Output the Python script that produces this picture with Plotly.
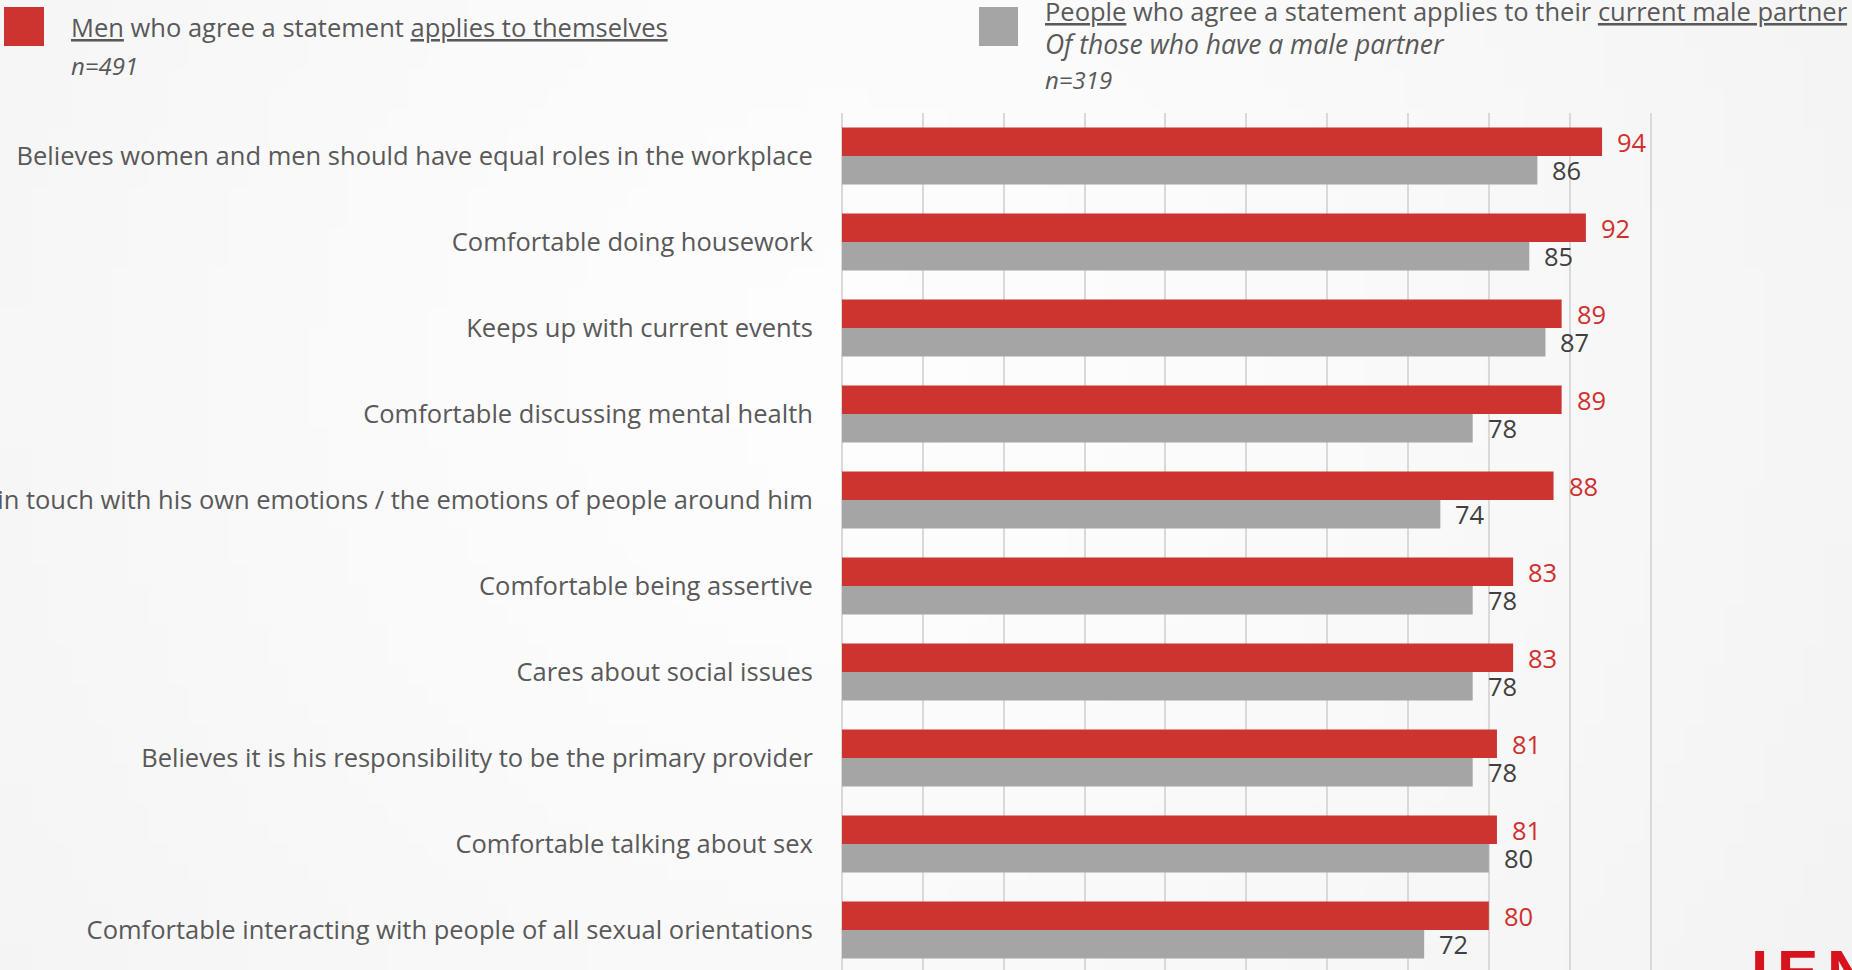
import base64
import struct
import zlib

import plotly.graph_objects as go

# ---- data -------------------------------------------------------------
statements = [
    "Believes women and men should have equal roles in the workplace",
    "Comfortable doing housework",
    "Keeps up with current events",
    "Comfortable discussing mental health",
    "Is in touch with his own emotions / the emotions of people around him",
    "Comfortable being assertive",
    "Cares about social issues",
    "Believes it is his responsibility to be the primary provider",
    "Comfortable talking about sex",
    "Comfortable interacting with people of all sexual orientations",
]
men_self = [94, 92, 89, 89, 88, 83, 83, 81, 81, 80]
partner_view = [86, 85, 87, 78, 74, 78, 78, 78, 80, 72]

men_label = "<u>Men</u> who agree a statement <u>applies to themselves</u>"
men_n = "n=491"
partner_label = "<u>People</u> who agree a statement applies to their <u>current male partner</u>"
partner_sub = "Of those who have a male partner"
partner_n = "n=319"

# ---- styling ----------------------------------------------------------
RED = "#CC3430"
RED_TEXT = "#D0302D"
GREY = "#A5A5A5"
GREY_TEXT = "#404040"
LABEL = "#595959"
GRID = "#D9D9D9"
FONT = "Open Sans, Noto Sans, sans-serif"
FS = 25.5

FIG_W, FIG_H = 1852, 970
L, R, T, B = 842, 199, 113, 0
PW = FIG_W - L - R
PH = FIG_H - T - B
ROW_PX = 86  # pixel height of one category band


def px(x):
    return (x - L) / PW


def py(y):
    return (FIG_H - B - y) / PH


def gradient_png(w, h):
    """Soft grey slide background, lighter towards the middle."""
    rows = []
    cx, cy = 0.45 * w, 0.38 * h
    dmax = ((w) ** 2 + (h) ** 2) ** 0.5 * 0.62
    for j in range(h):
        row = bytearray()
        for i in range(w):
            d = (((i - cx) ** 2 + (j - cy) ** 2) ** 0.5) / dmax
            v = 253 - 12 * min(d, 1.0) ** 1.4
            row.append(int(round(v)))
        rows.append(b"\x00" + bytes(row))
    raw = b"".join(rows)

    def chunk(tag, data):
        c = struct.pack(">I", len(data)) + tag + data
        return c + struct.pack(">I", zlib.crc32(tag + data) & 0xFFFFFFFF)

    png = (b"\x89PNG\r\n\x1a\n"
           + chunk(b"IHDR", struct.pack(">IIBBBBB", w, h, 8, 0, 0, 0, 0))
           + chunk(b"IDAT", zlib.compress(raw, 9))
           + chunk(b"IEND", b""))
    return "data:image/png;base64," + base64.b64encode(png).decode()


fig = go.Figure()
fig.add_trace(go.Bar(
    y=statements, x=men_self, orientation="h", name="men",
    marker=dict(color=RED, line=dict(width=0)),
    hoverinfo="skip",
))
fig.add_trace(go.Bar(
    y=statements, x=partner_view, orientation="h", name="partner",
    marker=dict(color=GREY, line=dict(width=0)),
    hoverinfo="skip",
))

annotations = []
half_bar = ROW_PX * (1 - 0.34) / 4
for s, v in zip(statements, men_self):
    annotations.append(dict(
        x=v, y=s, xref="x", yref="y", text=str(v), showarrow=False,
        xanchor="left", yanchor="middle", xshift=13, yshift=half_bar,
        font=dict(family=FONT, size=FS, color=RED_TEXT),
    ))
for s, v in zip(statements, partner_view):
    annotations.append(dict(
        x=v, y=s, xref="x", yref="y", text=str(v), showarrow=False,
        xanchor="left", yanchor="middle", xshift=13, yshift=-half_bar,
        font=dict(family=FONT, size=FS, color=GREY_TEXT),
    ))

# legend block
def note(text, x, y, size=FS, italic=False):
    annotations.append(dict(
        x=px(x), y=py(y), xref="paper", yref="paper",
        text=f"<i>{text}</i>" if italic else text,
        showarrow=False, xanchor="left", yanchor="middle",
        font=dict(family=FONT, size=size, color=LABEL),
    ))


note(men_label, 69, 27)
note(men_n, 69, 66, size=24, italic=True)
note(partner_label, 1043, 11)
note(partner_sub, 1043, 44, size=26.5, italic=True)
note(partner_n, 1043, 80, size=24, italic=True)

# brand mark in the lower right corner
for ch, x in [("I", 1750), ("E", 1776), ("N", 1826)]:
    annotations.append(dict(
        x=px(x), y=py(936), xref="paper", yref="paper", text=f"<b>{ch}</b>",
        showarrow=False, xanchor="left", yanchor="top",
        font=dict(family="Liberation Sans Narrow, Arial Narrow, sans-serif",
                  size=62, color="#D7141E"),
        borderpad=0,
    ))

shapes = [
    dict(type="rect", xref="paper", yref="paper",
         x0=px(4), x1=px(44), y0=py(7), y1=py(46),
         fillcolor=RED, line=dict(width=0)),
    dict(type="rect", xref="paper", yref="paper",
         x0=px(979), x1=px(1018), y0=py(7), y1=py(46),
         fillcolor=GREY, line=dict(width=0)),
]

n_rows_visible = PH / ROW_PX

fig.update_layout(
    width=FIG_W, height=FIG_H,
    margin=dict(l=L, r=R, t=T, b=B, pad=0, autoexpand=False),
    barmode="group", bargap=0.34, bargroupgap=0,
    showlegend=False,
    paper_bgcolor="#F6F6F6", plot_bgcolor="rgba(0,0,0,0)",
    font=dict(family=FONT, size=FS, color=LABEL),
    xaxis=dict(range=[0, 100.3], dtick=10, tick0=0, showgrid=True,
               gridcolor=GRID, gridwidth=1.5, zeroline=True,
               zerolinecolor=GRID, zerolinewidth=1.5, automargin=False,
               showticklabels=False, ticks="", fixedrange=True),
    yaxis=dict(range=[-0.5 + n_rows_visible, -0.5], showgrid=False,
               zeroline=False, ticks="outside", ticklen=23,
               tickcolor="rgba(0,0,0,0)", automargin=False,
               tickfont=dict(family=FONT, size=FS, color=LABEL),
               fixedrange=True),
    annotations=annotations,
    shapes=shapes,
    images=[dict(source=gradient_png(93, 49), xref="paper", yref="paper",
                 x=px(0), y=py(0), sizex=FIG_W / PW, sizey=FIG_H / PH,
                 xanchor="left", yanchor="top", sizing="stretch",
                 layer="below")],
)

fig.write_html("out.html", config=dict(displayModeBar=False))
